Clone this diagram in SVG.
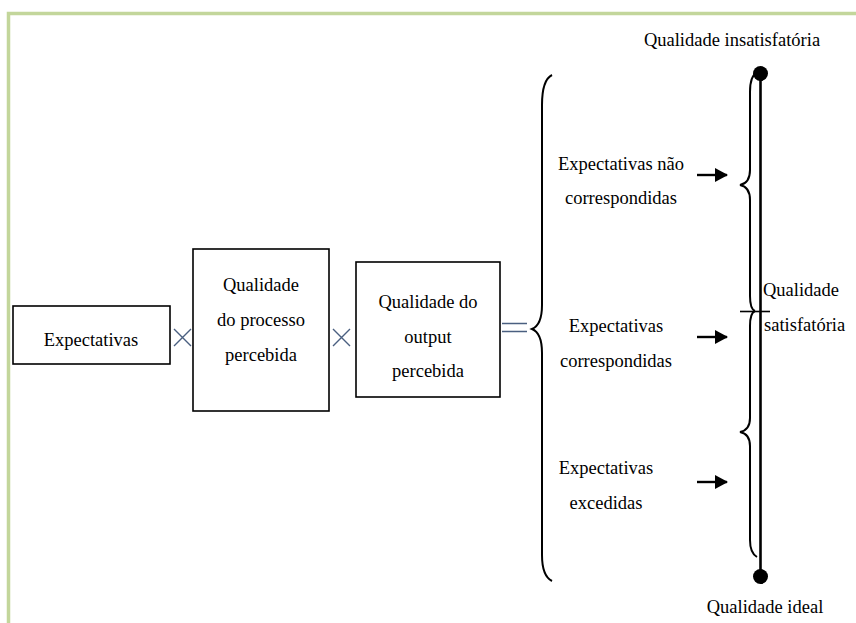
<svg xmlns="http://www.w3.org/2000/svg" width="856" height="623" viewBox="0 0 856 623">
<defs>
<style>
text{font-family:"Liberation Serif","Times New Roman",serif;font-size:18.5px;fill:#000}
.c{text-anchor:middle}
.box{fill:#fff;stroke:#000;stroke-width:1.6}
.ln{fill:none;stroke:#000;stroke-width:2}
.ar{fill:none;stroke:#000;stroke-width:2.4}
.op{fill:none;stroke:#4a5f80;stroke-width:1.4}
</style>
<marker id="ah" markerWidth="13" markerHeight="14" refX="12" refY="7" orient="auto" markerUnits="userSpaceOnUse">
<path d="M0,0 L13,7 L0,14 Z" fill="#000"/>
</marker>
</defs>
<rect x="0" y="0" width="856" height="623" fill="#fff"/>
<path d="M8.5,623 V13.5 H856" fill="none" stroke="#c3d69b" stroke-width="3.5"/>

<g id="n-expectativas">
<rect class="box" x="13" y="306" width="157" height="58"/>
<text class="c" x="91" y="346">Expectativas</text>
</g>
<g id="op-x1"><path class="op" d="M174,329 L191,346 M191,329 L174,346"/></g>
<g id="n-processo">
<rect class="box" x="193" y="249" width="136" height="162"/>
<text class="c" x="261" y="291">Qualidade</text>
<text class="c" x="261" y="326">do processo</text>
<text class="c" x="261" y="361">percebida</text>
</g>
<g id="op-x2"><path class="op" d="M333,329 L350,346 M350,329 L333,346"/></g>
<g id="n-output">
<rect class="box" x="356" y="262" width="144" height="135"/>
<text class="c" x="428" y="308">Qualidade do</text>
<text class="c" x="428" y="343">output</text>
<text class="c" x="428" y="377">percebida</text>
</g>
<g id="op-eq"><path class="op" d="M502,323.5 H527 M502,331.5 H527"/></g>

<g id="brace-left">
<path class="ln" d="M552,75 Q542,80 542,105 L542,305 Q542,325 532,329 Q542,333 542,353 L542,555 Q542,576 552,581"/>
</g>

<g id="n-nao">
<text class="c" x="621" y="170">Expectativas não</text>
<text class="c" x="621" y="204">correspondidas</text>
</g>
<g id="n-corresp">
<text class="c" x="616" y="332">Expectativas</text>
<text class="c" x="616" y="367">correspondidas</text>
</g>
<g id="n-excedidas">
<text class="c" x="606" y="474">Expectativas</text>
<text class="c" x="606" y="509">excedidas</text>
</g>

<g id="connectors">
<line class="ar" x1="697" y1="175" x2="727" y2="175" marker-end="url(#ah)"/>
<line class="ar" x1="697" y1="337" x2="727" y2="337" marker-end="url(#ah)"/>
<line class="ar" x1="697" y1="482" x2="727" y2="482" marker-end="url(#ah)"/>
</g>

<g id="scale">
<path class="ln" d="M757,72 Q750,76 750,92 L750,170 Q750,183 740,185 Q750,187 750,200 L750,296 Q750,309 755,311"/>
<path class="ln" d="M755,311 Q750,313 750,326 L750,418 Q750,430 740,432 Q750,434 750,446 L750,540 Q750,553 757,557"/>
<line x1="760.5" y1="74" x2="760.5" y2="577" stroke="#000" stroke-width="2.6"/>
<line x1="740" y1="311.5" x2="770" y2="311.5" stroke="#000" stroke-width="1.6"/>
<circle cx="760.5" cy="73.5" r="7.5" fill="#000"/>
<circle cx="760.5" cy="576.5" r="7.5" fill="#000"/>
</g>

<g id="n-insat"><text class="c" x="732" y="46">Qualidade insatisfatória</text></g>
<g id="n-sat">
<text x="763" y="296">Qualidade</text>
<text x="764" y="331">satisfatória</text>
</g>
<g id="n-ideal"><text class="c" x="765" y="613">Qualidade ideal</text></g>
</svg>
